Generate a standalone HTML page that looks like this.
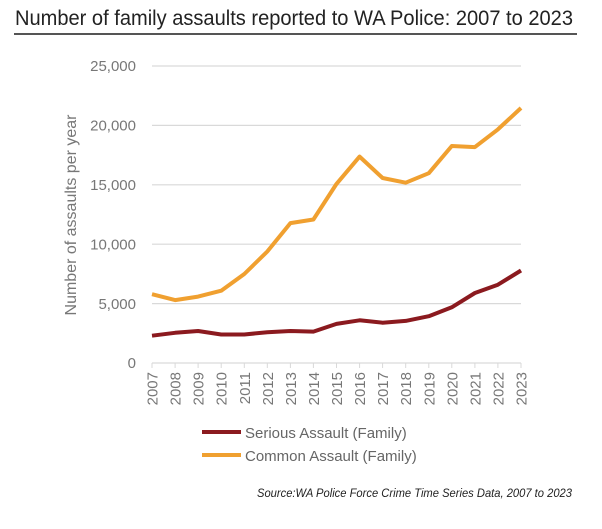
<!DOCTYPE html>
<html><head><style>body{margin:0;background:#fff;}</style></head><body>
<svg width="602" height="524" xmlns="http://www.w3.org/2000/svg" font-family="Liberation Sans, sans-serif">
<rect width="602" height="524" fill="#fff"/>
<text x="15" y="25" font-size="21" fill="#222" textLength="558" lengthAdjust="spacingAndGlyphs" font-family="Liberation Sans Narrow, Liberation Sans, sans-serif">Number of family assaults reported to WA Police: 2007 to 2023</text>
<line x1="14" y1="34" x2="577" y2="34" stroke="#555" stroke-width="2"/>
<g stroke="#d9d9d9" stroke-width="1.2">
<line x1="152" y1="66" x2="521" y2="66"/><line x1="152" y1="125.4" x2="521" y2="125.4"/><line x1="152" y1="184.8" x2="521" y2="184.8"/><line x1="152" y1="244.2" x2="521" y2="244.2"/><line x1="152" y1="303.6" x2="521" y2="303.6"/><line x1="152" y1="363" x2="521" y2="363"/>
</g>
<g stroke="#d9d9d9" stroke-width="1">
<path d="M152 363v5M175.1 363v5M198.1 363v5M221.2 363v5M244.3 363v5M267.3 363v5M290.4 363v5M313.4 363v5M336.5 363v5M359.6 363v5M382.6 363v5M405.7 363v5M428.8 363v5M451.8 363v5M474.9 363v5M497.9 363v5M521 363v5"/>
</g>
<g font-size="15" fill="#777" text-anchor="end">
<text x="136" y="71">25,000</text><text x="136" y="130.5">20,000</text><text x="136" y="190">15,000</text><text x="136" y="249.5">10,000</text><text x="136" y="309">5,000</text><text x="136" y="368">0</text>
</g>
<g font-size="15" fill="#777" text-anchor="end">
<text transform="translate(157.5,372) rotate(-90)">2007</text><text transform="translate(180.6,372) rotate(-90)">2008</text><text transform="translate(203.6,372) rotate(-90)">2009</text><text transform="translate(226.7,372) rotate(-90)">2010</text><text transform="translate(249.8,372) rotate(-90)">2011</text><text transform="translate(272.8,372) rotate(-90)">2012</text><text transform="translate(295.9,372) rotate(-90)">2013</text><text transform="translate(318.9,372) rotate(-90)">2014</text><text transform="translate(342,372) rotate(-90)">2015</text><text transform="translate(365.1,372) rotate(-90)">2016</text><text transform="translate(388.1,372) rotate(-90)">2017</text><text transform="translate(411.2,372) rotate(-90)">2018</text><text transform="translate(434.3,372) rotate(-90)">2019</text><text transform="translate(457.3,372) rotate(-90)">2020</text><text transform="translate(480.4,372) rotate(-90)">2021</text><text transform="translate(503.4,372) rotate(-90)">2022</text><text transform="translate(526.5,372) rotate(-90)">2023</text>
</g>
<text transform="translate(76,215) rotate(-90)" font-size="16" fill="#777" text-anchor="middle">Number of assaults per year</text>
<polyline fill="none" stroke="#f0a030" stroke-width="4" stroke-linejoin="round" points="152,294.2 175.1,300.1 198.1,296.6 221.2,290.7 244.3,274 267.3,251.5 290.4,223.1 313.4,219.5 336.5,183.9 359.6,156.6 382.6,178 405.7,182.7 428.8,173.2 451.8,146 474.9,147.1 497.9,129.4 521,108"/>
<polyline fill="none" stroke="#8b1a1f" stroke-width="4" stroke-linejoin="round" points="152,335.7 175.1,332.8 198.1,331 221.2,334.5 244.3,334.5 267.3,332.2 290.4,331 313.4,331.6 336.5,323.9 359.6,320.3 382.6,322.7 405.7,320.9 428.8,316.2 451.8,307.3 474.9,293 497.9,284.7 521,270.5"/>
<line x1="202" y1="432" x2="241" y2="432" stroke="#8b1a1f" stroke-width="4"/>
<line x1="202" y1="455" x2="241" y2="455" stroke="#f0a030" stroke-width="4"/>
<text x="245" y="438" font-size="15" fill="#666">Serious Assault (Family)</text>
<text x="245" y="461" font-size="15" fill="#666">Common Assault (Family)</text>
<text x="572" y="497" font-size="12" font-style="italic" fill="#222" text-anchor="end" textLength="315" lengthAdjust="spacingAndGlyphs">Source:WA Police Force Crime Time Series Data, 2007 to 2023</text>
</svg>
</body></html>
